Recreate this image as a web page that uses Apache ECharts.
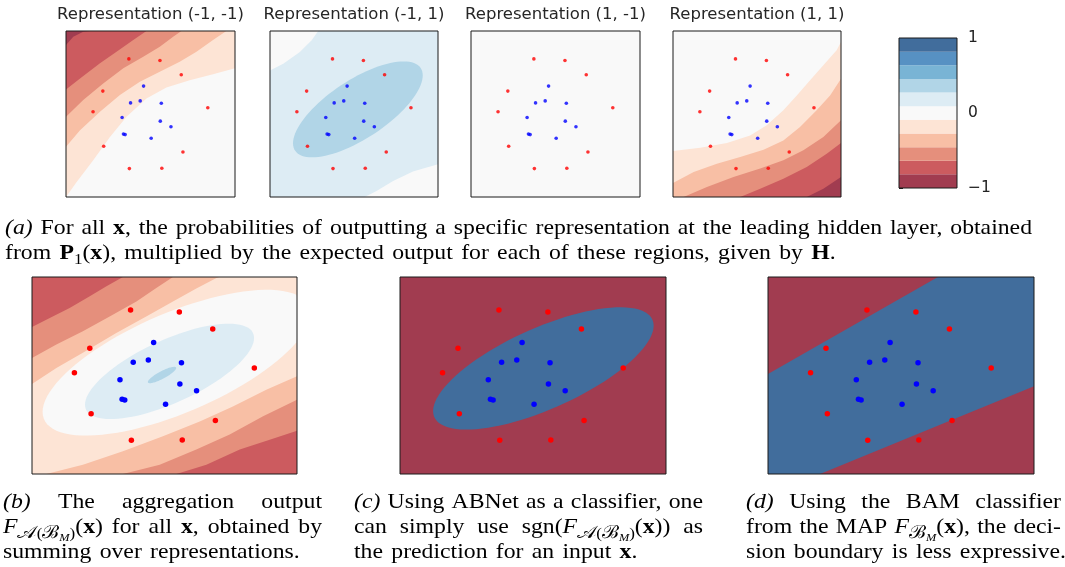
<!DOCTYPE html>
<html><head><meta charset="utf-8">
<script src="https://cdn.jsdelivr.net/npm/echarts@6/dist/echarts.min.js"></script>
<style>html,body{margin:0;padding:0;background:#fff}#c{width:1065px;height:567px}</style>
</head><body><div id="c"></div><script>
// ---------------- data ----------------
const redX  = [0.372,0.556,0.682,0.218,0.160,0.839,0.223,0.692,0.375,0.567];
const redY  = [0.832,0.822,0.736,0.638,0.514,0.538,0.306,0.271,0.171,0.173];
const blueX = [0.459,0.382,0.439,0.564,0.332,0.558,0.621,0.340,0.350,0.504];
const blueY = [0.668,0.567,0.579,0.565,0.479,0.457,0.423,0.379,0.376,0.354];

const levels = [-1,-0.818,-0.636,-0.455,-0.273,-0.091,0.091,0.273,0.455,0.636,0.818,1];
const levelColors = ['#a13c50','#cc5b5f','#e58f7c','#f8bfa5','#fde4d5','#f9f9f9','#ddecf4','#b1d5e7','#79b4d5','#5791c3','#416d9c'];
const cbTicks = [-1,0,1];
const panelTitles = ['Representation (-1, -1)','Representation (-1, 1)','Representation (1, -1)','Representation (1, 1)'];

// contour boundaries (normalised panel coords, y up)
const p1B4 = [[-0.016,-0.02],[0.063,0.091],[0.161,0.221],[0.26,0.362],[0.358,0.483],[0.476,0.594],[0.594,0.66],[0.732,0.704],[0.87,0.74],[1.028,0.775],[1,1],[0,1]];
const p1B3 = [[-0.016,0.302],[0.083,0.402],[0.201,0.513],[0.319,0.614],[0.437,0.694],[0.555,0.755],[0.673,0.815],[0.772,0.875],[0.87,0.946],[0.949,1.0],[0,1]];
const p1B2 = [[-0.016,0.483],[0.102,0.584],[0.22,0.684],[0.339,0.775],[0.457,0.845],[0.555,0.905],[0.634,0.966],[0.683,1.016],[0,1]];
const p1B1 = [[-0.016,0.648],[0.083,0.714],[0.201,0.805],[0.299,0.875],[0.398,0.946],[0.476,1.01],[0,1]];
const p1B0 = [[-0.016,0.915],[0.043,0.966],[0.102,0.996],[0.142,1.026],[0,1]];

const p2TL = [[-0.02,0.762],[0.079,0.802],[0.178,0.873],[0.248,0.944],[0.287,1.014],[0,1]];
const p2BR = [[0.564,-0.024],[0.634,0.036],[0.733,0.097],[0.851,0.153],[1.02,0.198],[1,0]];
const p2Ell = [0.523,0.528,0.386,0.289,0.204];   // centre x, centre y, half width, half height, rise of rightmost point

const p4B4 = [[-0.016,0.277],[0.162,0.297],[0.321,0.325],[0.459,0.371],[0.558,0.432],[0.657,0.522],[0.737,0.612],[0.816,0.703],[0.895,0.793],[0.974,0.884],[1.024,0.934],[1,0],[0,0]];
const p4B3 = [[-0.016,0.084],[0.123,0.151],[0.261,0.201],[0.4,0.241],[0.539,0.285],[0.657,0.341],[0.756,0.422],[0.855,0.522],[0.935,0.612],[1.024,0.713],[1,0],[0,0]];
const p4B2 = [[0.063,-0.02],[0.202,0.06],[0.36,0.12],[0.519,0.171],[0.657,0.221],[0.776,0.281],[0.895,0.361],[1.024,0.462],[1,0]];
const p4B1 = [[0.4,-0.02],[0.519,0.05],[0.657,0.11],[0.796,0.181],[0.915,0.261],[1.024,0.325],[1,0]];
const p4B0 = [[0.796,-0.02],[0.895,0.05],[1.024,0.12],[1,0]];

const pbTL3 = [[-0.009,0.457],[0.092,0.538],[0.205,0.626],[0.318,0.716],[0.431,0.8],[0.532,0.876],[0.62,0.941],[0.696,0.995],[0.708,1.012],[0,1]];
const pbTL2 = [[-0.009,0.589],[0.092,0.657],[0.192,0.724],[0.293,0.8],[0.394,0.876],[0.469,0.944],[0.532,1.012],[0,1]];
const pbTL1 = [[-0.009,0.746],[0.067,0.792],[0.142,0.843],[0.218,0.902],[0.281,0.953],[0.343,1.012],[0,1]];
const pbBR3 = [[0.054,-0.012],[0.192,0.047],[0.343,0.115],[0.494,0.191],[0.633,0.267],[0.758,0.343],[0.884,0.428],[1.01,0.496],[1,0]];
const pbBR2 = [[0.343,-0.012],[0.482,0.047],[0.62,0.124],[0.746,0.2],[0.872,0.293],[1.01,0.377],[1,0]];
const pbBR1 = [[0.545,-0.012],[0.658,0.047],[0.784,0.124],[0.897,0.174],[1.01,0.22],[1,0]];
const pbEll5 = [0.545,0.565,0.505,0.37,0.25];
const pbEll6 = [0.519,0.521,0.319,0.242,0.169];
const pbEll7 = [0.4906,0.5025,0.0535,0.0415,0.0355];

const pcEll = [0.539,0.536,0.4146,0.3105,0.2166];
const pdBand = [[0,0],[0.1957,0],[1,0.445],[1,1],[0.6386,1],[0,0.5076]];

// ---------------- layout ----------------
const FULL = [[0,0],[1,0],[1,1],[0,1]];
const panels = [
  {box:[66,31,169,166], small:true, layers:[[5,'p',FULL],[4,'p',p1B4],[3,'p',p1B3],[2,'p',p1B2],[1,'p',p1B1],[0,'p',p1B0]]},
  {box:[270,31,168,166], small:true, layers:[[6,'p',FULL],[5,'p',p2TL],[5,'p',p2BR],[7,'e',p2Ell]]},
  {box:[471,31,169,166], small:true, layers:[[5,'p',FULL]]},
  {box:[673,31,168,166], small:true, layers:[[5,'p',FULL],[4,'p',p4B4],[3,'p',p4B3],[2,'p',p4B2],[1,'p',p4B1],[0,'p',p4B0]]},
  {box:[32,277,265,197], small:false, layers:[[4,'p',FULL],[3,'p',pbTL3],[2,'p',pbTL2],[1,'p',pbTL1],[3,'p',pbBR3],[2,'p',pbBR2],[1,'p',pbBR1],[5,'e',pbEll5],[6,'e',pbEll6],[7,'e',pbEll7]]},
  {box:[400,277,266,197], small:false, layers:[[0,'p',FULL],[10,'e',pcEll]]},
  {box:[768,277,266,197], small:false, layers:[[0,'p',FULL],[10,'p',pdBand]]}
];
const CB = [899,38,58,150];

function clamp(v){return Math.max(0,Math.min(1,v));}
function ellPts(e){
  const [cx,cy,W,H,d]=e; const k=Math.sqrt(Math.max(0,H*H-d*d)); const pts=[];
  for(let i=0;i<96;i++){const t=i/96*2*Math.PI; pts.push([cx+W*Math.cos(t), cy+d*Math.cos(t)+k*Math.sin(t)]);}
  return pts;
}

const grids=[], xAxes=[], yAxes=[], series=[];
function frameSeries(gi){
  return {type:'custom', xAxisIndex:gi, yAxisIndex:gi, silent:true, z:6, data:[[0,0]],
    renderItem:function(params){const c=params.coordSys;
      return {type:'rect', shape:{x:c.x,y:c.y,width:c.width,height:c.height}, style:{fill:'none',stroke:'#1a1a1a',lineWidth:1}};}};
}
panels.forEach((P,gi)=>{
  grids.push({left:P.box[0], top:P.box[1], width:P.box[2], height:P.box[3], containLabel:false});
  xAxes.push({gridIndex:gi, type:'value', min:0, max:1, show:false});
  yAxes.push({gridIndex:gi, type:'value', min:0, max:1, show:false});
  series.push({type:'custom', xAxisIndex:gi, yAxisIndex:gi, clip:true, silent:true, z:1, data:[[0.5,0.5]],
    renderItem:function(params, api){
      const children = P.layers.map((L,k)=>{
        const pts = L[1]==='e' ? ellPts(L[2]) : L[2];
        const px = pts.map(p=>api.coord([clamp(p[0]),clamp(p[1])]));
        return {type:'polygon', z2:k, shape:{points:px}, style:{fill:levelColors[L[0]], stroke:null}};
      });
      return {type:'group', children};
    }});
  const sz = P.small?3.6:5.5, op = P.small?0.8:1;
  series.push({type:'scatter', xAxisIndex:gi, yAxisIndex:gi, silent:true, z:3, symbol:'circle', symbolSize:sz,
    itemStyle:{color:'#ff0000', opacity:op}, data:redX.map((x,i)=>[x,redY[i]])});
  series.push({type:'scatter', xAxisIndex:gi, yAxisIndex:gi, silent:true, z:3, symbol:'circle', symbolSize:sz,
    itemStyle:{color:'#0000ff', opacity:op}, data:blueX.map((x,i)=>[x,blueY[i]])});
  series.push(frameSeries(gi));
});
// colorbar
const cbi = panels.length;
grids.push({left:CB[0], top:CB[1], width:CB[2], height:CB[3]});
xAxes.push({gridIndex:cbi, type:'value', min:0, max:1, show:false});
yAxes.push({gridIndex:cbi, type:'value', min:-1, max:1, interval:1, position:'right',
  axisLine:{show:false}, splitLine:{show:false},
  axisTick:{show:true, inside:false, length:4, lineStyle:{color:'#1a1a1a', width:1}},
  axisLabel:{show:true, margin:11, fontSize:15.5, fontFamily:'DejaVu Sans', color:'#222',
    formatter:v=> cbTicks.indexOf(v)<0 ? '' : (v<0 ? '\u2212'+(-v) : String(v))}});
series.push({type:'custom', xAxisIndex:cbi, yAxisIndex:cbi, silent:true, z:1,
  data:levelColors.map((c,i)=>[i]),
  renderItem:function(params, api){
    const i=api.value(0); const a=api.coord([0,levels[i]]), b=api.coord([1,levels[i+1]]);
    return {type:'rect', shape:{x:a[0],y:b[1],width:b[0]-a[0],height:a[1]-b[1]}, style:{fill:levelColors[i], stroke:null}};
  }});
series.push(frameSeries(cbi));

// ---------------- text ----------------
const SERIF='Liberation Serif', SANS='DejaVu Sans';
const S=21, SX=1.13;
const STY={n:{sz:1,it:0,bd:0,dy:0}, i:{sz:1,it:1,bd:0,dy:0}, b:{sz:1,it:0,bd:1,dy:0},
  s:{sz:0.72,it:0,bd:0,dy:0.2}, si:{sz:0.72,it:1,bd:0,dy:0.2}, sc:{sz:0.86,it:0,bd:0,dy:0.2}, ssi:{sz:0.52,it:1,bd:0,dy:0.33}};
const captions=[
  {x0:5, x1:1032, lines:[
    {t:'{i|(a)} For all {b|x}, the probabilities of outputting a specific representation at the leading hidden layer, obtained', j:1, y:236},
    {t:'from {b|P}{s|1}({b|x}), multiplied by the expected output for each of these regions, given by {b|H}.', j:0, y:261}]},
  {x0:3, x1:322, lines:[
    {t:'{i|(b)} The aggregation output', j:1, y:510},
    {t:'{i|F}{sc|𝒜}{s|(}{sc|ℬ}{ssi|M}{s|)}({b|x}) for all {b|x}, obtained by', j:1, y:535},
    {t:'summing over representations.', j:0, y:560}]},
  {x0:354, x1:703, lines:[
    {t:'{i|(c)} Using ABNet as a classifier, one', j:1, y:510},
    {t:'can simply use sgn({i|F}{sc|𝒜}{s|(}{sc|ℬ}{ssi|M}{s|)}({b|x})) as', j:1, y:535},
    {t:'the prediction for an input {b|x}.', j:0, y:560}]},
  {x0:746, x1:1061, lines:[
    {t:'{i|(d)} Using the BAM classifier', j:1, y:510},
    {t:'from the MAP {i|F}{sc|ℬ}{ssi|M}({b|x}), the deci-', j:1, y:535},
    {t:'sion boundary is less expressive.', j:0, y:560}]}
];
const cv=document.createElement('canvas').getContext('2d');
function fontStr(st){const s=STY[st];return (s.it?'italic ':'')+(s.bd?'bold ':'')+(S*s.sz)+'px '+SERIF;}
function meas(t){cv.font=fontStr(t.st);return cv.measureText(t.tx).width*SX;}
function parseWord(w){const out=[];const re=/\{(\w+)\|([^}]*)\}|([^{]+)/g;let m;
  while((m=re.exec(w))){ if(m[1]) out.push({st:m[1],tx:m[2]}); else out.push({st:'n',tx:m[3]}); } return out;}
const gEls=[];
captions.forEach(cap=>{
  cap.lines.forEach(line=>{
    const words=line.t.split(' ').map(parseWord);
    const ww=words.map(w=>w.reduce((a,t)=>a+meas(t),0));
    const sum=ww.reduce((a,b)=>a+b,0);
    cv.font=fontStr('n'); const sp=cv.measureText(' ').width*SX*1.4;
    const gap=line.j?(cap.x1-cap.x0-sum)/(words.length-1):sp;
    let x=cap.x0;
    words.forEach(w=>{
      w.forEach(t=>{
        const s=STY[t.st], fs=S*s.sz;
        gEls.push({type:'text', x:x, y:line.y+s.dy*S-0.34*fs, scaleX:SX, silent:true,
          style:{text:t.tx, fontSize:fs, fontFamily:SERIF, fontStyle:s.it?'italic':'normal', fontWeight:s.bd?'bold':'normal',
            fill:'#000', align:'left', verticalAlign:'middle', textAlign:'left', textVerticalAlign:'middle'}});
        x+=meas(t);
      });
      x+=gap;
    });
  });
});
panels.slice(0,4).forEach((P,i)=>{
  gEls.push({type:'text', x:P.box[0]+P.box[2]/2, y:14.5, silent:true,
    style:{text:panelTitles[i], fontSize:16.5, fontFamily:SANS, fill:'#262626', align:'center', verticalAlign:'middle', textAlign:'center', textVerticalAlign:'middle'}});
});

const chart=echarts.init(document.getElementById('c'),null,{renderer:'canvas'});
chart.setOption({animation:false, backgroundColor:'#fff', grid:grids, xAxis:xAxes, yAxis:yAxes, series:series, graphic:{elements:gEls}});
</script></body></html>
